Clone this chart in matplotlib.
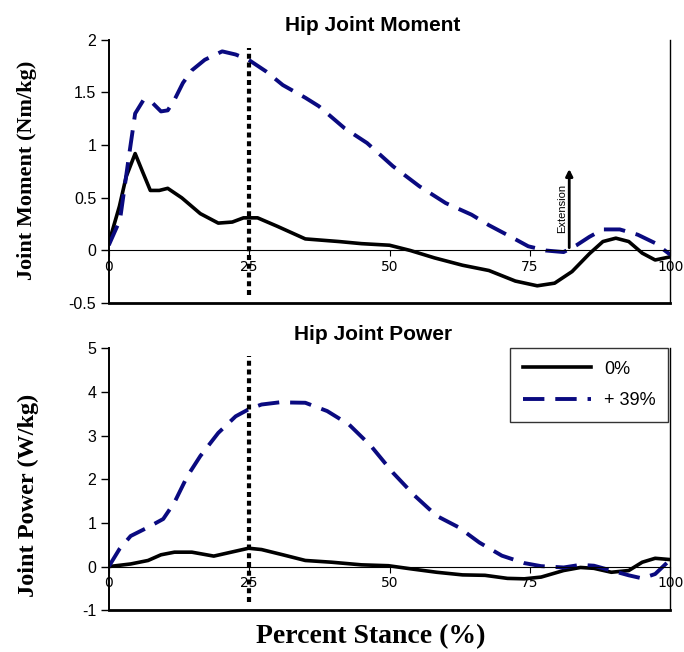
import matplotlib.pyplot as plt

# percent stance vs hip moment (Nm/kg)
moment_x_0 = [0, 1.9, 3.1, 4.7, 6, 7.4, 9, 10.5, 13, 16.3, 19.5, 22, 24, 26.5, 30, 35, 41, 45, 50,
              53.7, 58, 63, 67.7, 72.4, 76.3, 79.4, 82.5, 85.6, 88, 90.3, 92.6, 95, 97.3, 100]
moment_0 = [0.07, 0.42, 0.7, 0.92, 0.75, 0.57, 0.57, 0.59, 0.5, 0.35, 0.26, 0.27, 0.31, 0.31, 0.23,
            0.11, 0.085, 0.065, 0.05, 0.0, -0.07, -0.14, -0.19, -0.29, -0.335, -0.31, -0.2, -0.03,
            0.085, 0.117, 0.085, -0.025, -0.09, -0.06]
moment_x_39 = [0, 2, 3.5, 4.7, 6.2, 7.8, 9.3, 10.5, 11.7, 13.2, 14.8, 17.1, 20.2, 22.6, 24.9, 28, 31,
               35, 37.4, 42, 46, 50.6, 55.3, 60, 64.6, 67.7, 71.6, 74.7, 77.8, 81, 83.3, 85.6, 88,
               91, 94.2, 97.3, 100]
moment_39 = [0.05, 0.29, 0.86, 1.3, 1.43, 1.4, 1.32, 1.33, 1.43, 1.59, 1.71, 1.81, 1.89, 1.86, 1.81,
             1.7, 1.57, 1.45, 1.37, 1.16, 1.02, 0.8, 0.61, 0.45, 0.34, 0.24, 0.13, 0.04, 0.0, -0.015,
             0.05, 0.13, 0.2, 0.2, 0.15, 0.07, -0.04]

# percent stance vs hip power (W/kg)
power_x_0 = [0, 3.9, 7, 9.3, 11.7, 14.8, 18.7, 21.8, 24.9, 27.2, 31, 35, 39.7, 45, 49.8, 53.7, 58.4,
             63, 67, 71, 74, 77, 81, 84, 86.4, 89.5, 92.6, 95, 97.3, 100]
power_0 = [0, 0.06, 0.14, 0.27, 0.33, 0.33, 0.24, 0.33, 0.42, 0.39, 0.27, 0.14, 0.1, 0.04, 0.02,
           -0.05, -0.13, -0.19, -0.2, -0.27, -0.28, -0.24, -0.09, -0.02, -0.04, -0.13, -0.09, 0.1,
           0.19, 0.16]
power_x_39 = [0, 1.9, 3.9, 7, 9.7, 11.7, 14, 16.3, 19.5, 22.6, 24.9, 27.2, 30.4, 35, 38.9, 42.8,
              46.7, 50.6, 54.5, 58.4, 62.3, 66, 70, 74, 77, 81, 84, 86.4, 89.5, 92.6, 95, 97.3, 100]
power_39 = [0, 0.4, 0.7, 0.9, 1.09, 1.47, 2.07, 2.53, 3.06, 3.44, 3.6, 3.71, 3.76, 3.75, 3.56, 3.25,
            2.76, 2.15, 1.62, 1.16, 0.9, 0.55, 0.25, 0.08, 0.01, -0.02, 0.04, 0.02, -0.09, -0.2,
            -0.27, -0.17, 0.16]

x_ticks = [0, 25, 50, 75, 100]
navy = '#0a0a80'
serif = 'Liberation Serif'
sans = 'Liberation Sans'
dashes = (0, (5.5, 2.8))

fig = plt.figure(figsize=(6.84, 6.52), dpi=100)
ax1 = fig.add_axes([0.159, 0.535, 0.821, 0.404])
ax2 = fig.add_axes([0.159, 0.064, 0.821, 0.402])


def style_axes(ax, ymin, ymax, yticks, title, ylabel, label_size, label_pos):
    ax.set_xlim(0, 100)
    ax.set_ylim(ymin, ymax)
    ax.set_yticks(yticks)
    ax.set_yticklabels([f'{t:g}' for t in yticks], fontsize=11.5, family=sans)
    ax.set_xticks(x_ticks)
    ax.set_xticklabels([str(t) for t in x_ticks], fontsize=11.5, family=sans)
    ax.spines['top'].set_visible(False)
    ax.spines['bottom'].set_position(('data', 0))
    ax.spines['bottom'].set_linewidth(0.8)
    ax.spines['left'].set_linewidth(1.4)
    ax.spines['right'].set_linewidth(1.0)
    ax.axhline(ymin, color='black', lw=2.0, clip_on=False, zorder=5)
    ax.tick_params(axis='x', direction='out', length=4, width=0.8, pad=3)
    ax.tick_params(axis='y', direction='out', length=6, width=1.0, pad=3)
    ax.set_title(title, fontsize=15, fontweight='bold', family=sans, x=0.47, pad=6)
    ax.set_ylabel(ylabel, fontsize=label_size, fontweight='bold', family=serif)
    ax.yaxis.set_label_coords(*label_pos)
    ax.axvline(25, ymin=0.03, ymax=0.97, color='black', lw=3, ls=(0, (1.2, 0.9)), zorder=4)


ax1.plot(moment_x_0, moment_0, color='black', lw=2.6, label='0%')
ax1.plot(moment_x_39, moment_39, color=navy, lw=2.8, ls=dashes, label='+ 39%')
style_axes(ax1, -0.5, 2, [-0.5, 0, 0.5, 1, 1.5, 2], 'Hip Joint Moment', 'Joint Moment (Nm/kg)',
           16, (-0.128, 0.506))
ax1.annotate('', xy=(82, 0.8), xytext=(82, 0),
             arrowprops=dict(arrowstyle='-|>', color='black', lw=2, mutation_scale=10))
ax1.text(80.8, 0.4, 'Extension', rotation=90, fontsize=8, family=sans, ha='center', va='center')

ax2.plot(power_x_0, power_0, color='black', lw=2.6, label='0%')
ax2.plot(power_x_39, power_39, color=navy, lw=2.8, ls=dashes, label='+ 39%')
style_axes(ax2, -1, 5, [-1, 0, 1, 2, 3, 4, 5], 'Hip Joint Power', 'Joint Power (W/kg)',
           17.5, (-0.124, 0.44))
leg = ax2.legend(loc='upper right', bbox_to_anchor=(0.996, 1.0), fontsize=13, frameon=True,
                 fancybox=False, edgecolor='black', handlelength=3.8, borderpad=0.7,
                 labelspacing=0.8, handletextpad=0.7, borderaxespad=0)
leg.get_frame().set_linewidth(1.0)
for t in leg.get_texts():
    t.set_family(sans)

fig.text(0.542, 0.023, 'Percent Stance (%)', fontsize=20, fontweight='bold', family=serif,
         ha='center', va='center')

fig.savefig('out.png', dpi=100)
